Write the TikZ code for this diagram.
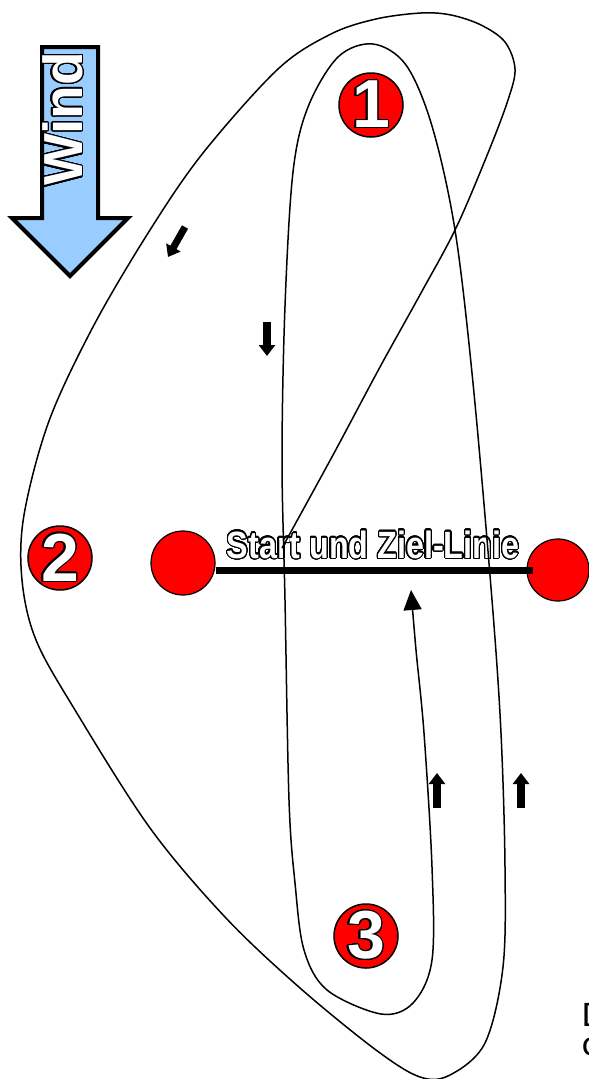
\documentclass[tikz,border=0pt]{standalone}
\usepackage{fontspec}
\setmainfont{Liberation Sans}
\newfontfamily\narrowfont{Liberation Sans}[FakeStretch=0.85]
\newfontfamily\notefont{Carlito}
\usepackage{contour}
\contourlength{1.2pt}
\contournumber{32}
\usetikzlibrary{arrows.meta}
\definecolor{windblue}{HTML}{99CCFF}
\tikzset{
  course/.style={line width=1.5pt, line join=round},
  marknode/.style={circle, draw=black, fill=red, line width=1.5pt, minimum size=64pt, inner sep=0pt,
    font=\bfseries\fontsize{68}{70}\selectfont},
  buoy/.style={circle, draw=black, fill=red, line width=1.2pt, inner sep=0pt},
  startline/.style={line width=7pt},
  blockarr/.style={line width=8pt, -{Triangle[length=11pt,width=16pt]}},
  windarrow/.style={draw=black, fill=windblue, line width=4pt, line join=miter},
}
\newcommand{\outl}[1]{\contour{black}{\color{white}#1}}
\begin{document}
\begin{tikzpicture}[x=1pt,y=-1pt]
\useasboundingbox (0,0) rectangle (589,1079);
% wind arrow
\draw[windarrow] (42,47) -- (98,47) -- (98,218) -- (128,218) -- (70,276) -- (12,218) -- (42,218) -- cycle;
\node[rotate=90, font=\bfseries\fontsize{55}{60}\selectfont, inner sep=0pt] (wind) at (63,119) {\outl{Wind}};
% marks
\node[marknode] (m1) at (371,105) {\outl{1}};
\node[marknode] (m2) at (60,558) {\outl{2}};
\node[marknode] (m3) at (366,936) {\outl{3}};
% start / finish line
\node[buoy, minimum size=64pt] (sl) at (183,563) {};
\node[buoy, minimum size=62pt] (sr) at (558,570) {};
\draw[startline] ([yshift=-7pt]sl.east) -- ([xshift=-25pt]sr.center);
\node[anchor=base, inner sep=0pt, font=\narrowfont\bfseries\fontsize{38}{40}\selectfont] (lbl) at (373,558) {\outl{Start und Ziel-Linie}};
% course
\coordinate (start) at (282,548);
\draw[course, -{Triangle[length=20pt,width=18pt]}] plot[smooth, tension=0.55] coordinates {
(282,548) (333,455) (380,367) (421,293) (456,228) (488,153) (508,100) (515,69) (505,42)
(481,25) (451,15) (421,13) (376,19) (331,34) (278,69) (203,153) (150,230)
(94,325) (49,421) (24,515) (22,580) (36,640) (75,710) (150,828) (225,917)
(300,988) (376,1050) (420,1077) (450,1075) (485,1043) (503,967) (505,867) (501,733)
(492,600) (473,383) (455,230) (432,126) (406,65) (373,44) (338,57) (308,107) (293,172)
(285,306) (282,459) (285,600) (289,800) (295,883) (304,950) (327,990) (381,1014)
(413,1003) (432,960) (432,867) (424,733) (416,650) (411,590)};
% direction arrows
\coordinate (a1s) at (185,227); \coordinate (a1e) at (168,257);
\coordinate (a2s) at (267,322); \coordinate (a2e) at (267,356);
\coordinate (a3s) at (437,808); \coordinate (a3e) at (437,773);
\coordinate (a4s) at (521,808); \coordinate (a4e) at (521,773);
\draw[blockarr, line width=7pt] (a1s) -- (a1e);
\draw[blockarr] (a2s) -- (a2e);
\draw[blockarr] (a3s) -- (a3e);
\draw[blockarr] (a4s) -- (a4e);
% clipped note text
\node[anchor=base west, inner sep=0pt, font=\notefont\fontsize{36}{40}\selectfont] (n1) at (582,1026) {D};
\node[anchor=base west, inner sep=0pt, font=\notefont\fontsize{36}{40}\selectfont] (n2) at (582,1055) {c};
\end{tikzpicture}
\end{document}
